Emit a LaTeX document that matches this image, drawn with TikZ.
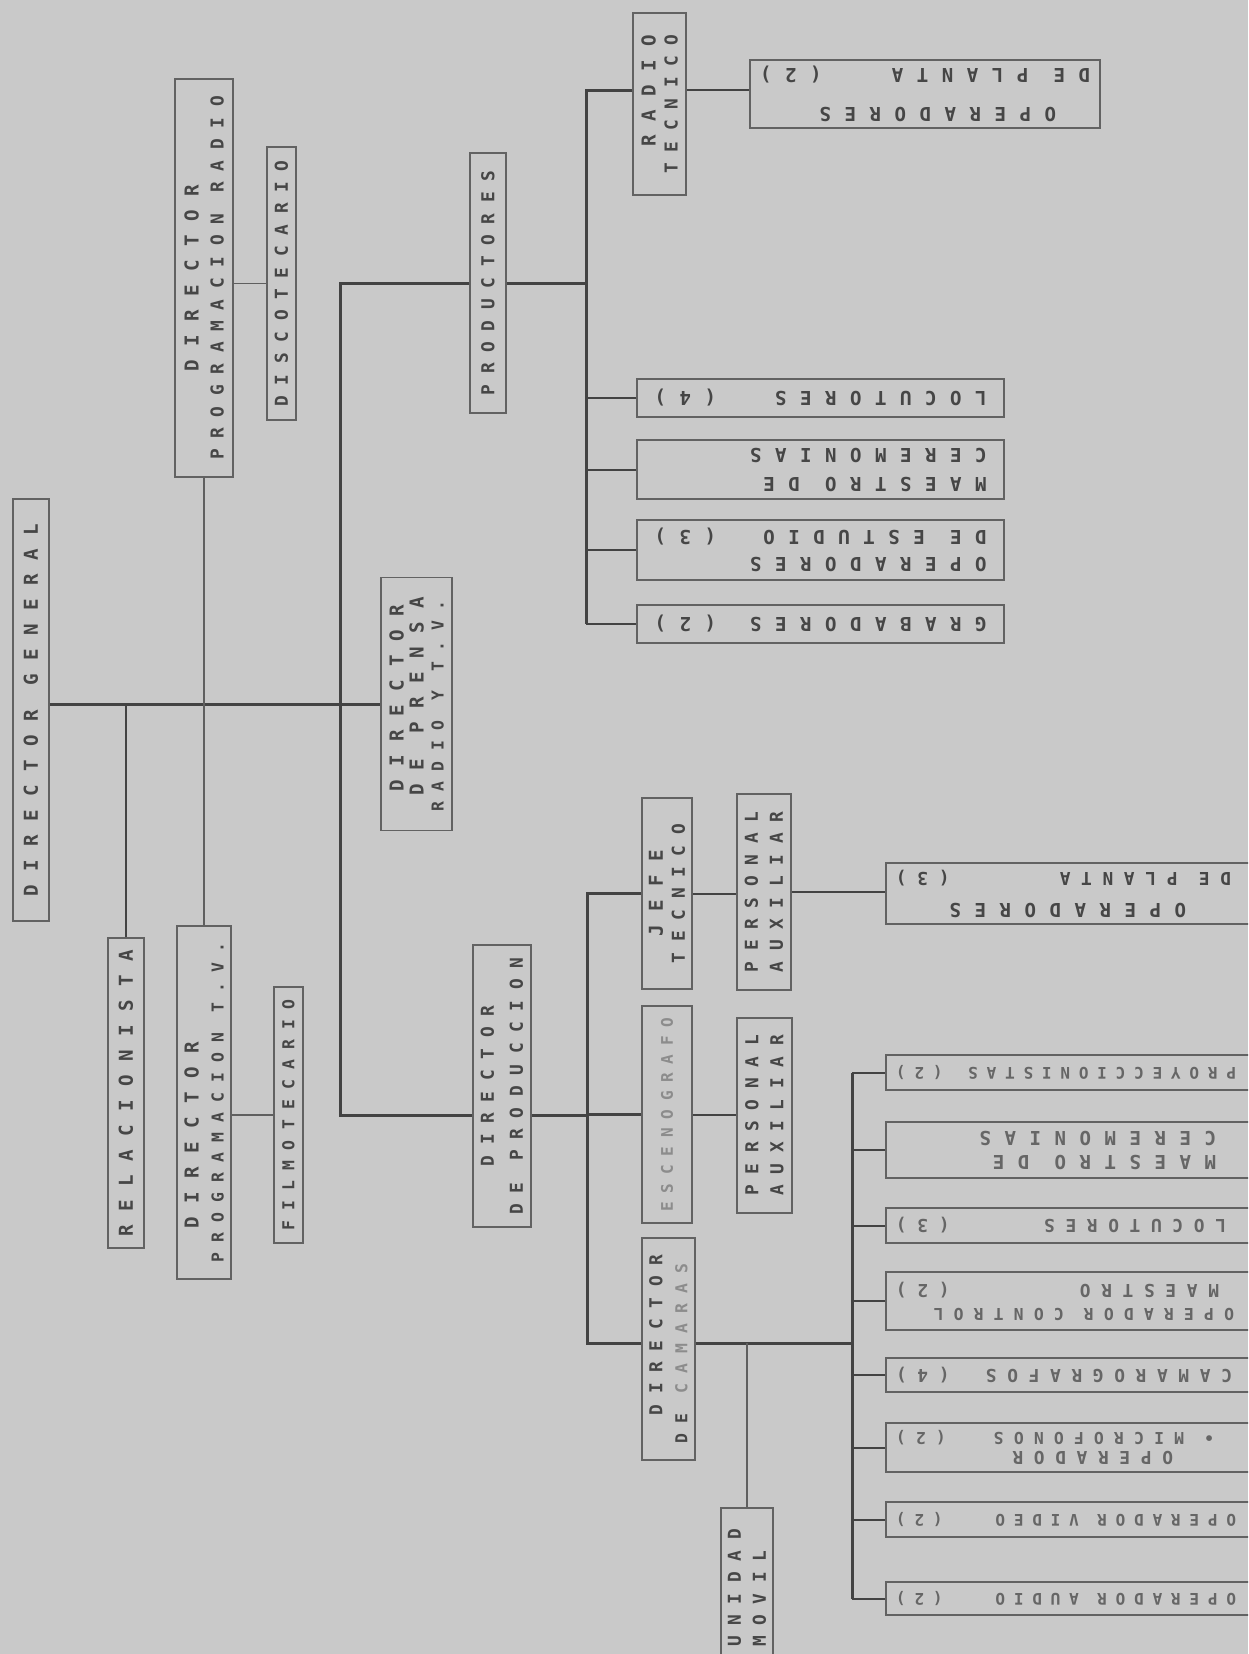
\documentclass[tikz,border=0pt]{standalone}
\usepackage{fontspec}
\newfontfamily\tBigfam[LetterSpace=70]{DejaVu Sans Mono}
\newfontfamily\tMidfam[LetterSpace=60]{DejaVu Sans Mono}
\newfontfamily\tSmallfam[LetterSpace=62]{DejaVu Sans Mono}
\newfontfamily\tTinyfam[LetterSpace=55]{DejaVu Sans Mono}
\newcommand{\tBig}{\tBigfam\bfseries\fontsize{9.6pt}{12.5pt}\selectfont}
\newcommand{\tMid}{\tMidfam\bfseries\fontsize{8.9pt}{12.5pt}\selectfont}
\newcommand{\tSmall}{\tSmallfam\bfseries\fontsize{8.2pt}{12.5pt}\selectfont}
\newcommand{\tTiny}{\tTinyfam\bfseries\fontsize{8pt}{12.5pt}\selectfont}
\definecolor{paper}{HTML}{C9C9C9}
\definecolor{ink}{HTML}{464646}
\definecolor{inkl}{HTML}{666666}
\definecolor{faded}{HTML}{8C8C8C}
\definecolor{rule}{HTML}{434343}
\definecolor{frame}{HTML}{626262}
\tikzset{
  box/.style={draw=frame, line width=0.9pt, inner sep=0pt, text=ink, font=\tBig},
  vbox/.style 2 args={box, rotate=90, minimum width=#1, minimum height=#2},
  rbox/.style 2 args={box, rotate=180, minimum width=#1, minimum height=#2, align=flush left},
  upcol/.style={rbox={183.5pt}{#1}, text width=166pt},
  lowcol/.style={rbox={196pt}{#1}, text width=186pt, text=inkl},
  main/.style={draw=rule, line width=1.5pt},
  link/.style={draw=rule, line width=1pt},
  fine/.style={draw=rule!85, line width=0.6pt},
}

\begin{document}
\begin{tikzpicture}[x=0.5pt, y=-0.5pt]
  \useasboundingbox (0,0) rectangle (1248,1654);
  \fill[paper] (0,0) rectangle (1248,1654);
  \clip (0,0) rectangle (1248,1654);

  % direccion
  \node[vbox={211pt}{18pt}] (dg) at (31,710) {DIRECTOR GENERAL};
  \node[vbox={155pt}{18pt}] (rel) at (126,1093) {RELACIONISTA};
  \node[vbox={199pt}{29pt}, font=\tMid, align=flush center] (dpr) at (204,278) {{\tBig DIRECTOR}\\PROGRAMACION RADIO};
  \node[vbox={136.5pt}{14.5pt}, font=\tMid] (disco) at (281.5,283.5) {DISCOTECARIO};
  \node[vbox={176.5pt}{27pt}, font=\tSmall, align=flush left] (dptv) at (204,1102.5) {\hspace*{17pt}{\tBig DIRECTOR}\\PROGRAMACION T.V.};
  \node[vbox={128pt}{14.5pt}, font=\tSmall] (filmo) at (288.5,1115) {FILMOTECARIO};
  \node[vbox={126.5pt}{35.5pt}, align=flush left] (prensa) at (416.5,704) {\hspace*{10pt}DIRECTOR\\[-2.5pt]\hspace*{8pt}DE PRENSA\\[-2.5pt]{\tSmall RADIO Y T.V.}};

  % prensa radio y t.v.
  \node[vbox={130pt}{18pt}, font=\tMid] (prod) at (488,283) {PRODUCTORES};
  \node[vbox={91pt}{26.5pt}, font=\tMid, align=flush right] (rt) at (659.5,104) {{\tBig RADIO}\\[-1.5pt]TECNICO};
  \node[rbox={175pt}{34pt}, text width=165pt] (opdp2) at (925,94) {\hspace*{17pt}OPERADORES\\[7pt]DE PLANTA\hfill(2)};
  \node[upcol=19pt] (loc4) at (820.5,398) {LOCUTORES\hfill(4)};
  \node[upcol=29.5pt] (mc1) at (820.5,469.5) {MAESTRO DE\\[2pt]CEREMONIAS};
  \node[upcol=30pt] (oe) at (820.5,550) {OPERADORES\\[1pt]DE ESTUDIO\hfill(3)};
  \node[upcol=19pt] (gr) at (820.5,624) {GRABADORES\hfill(2)};

  % produccion
  \node[vbox={141pt}{29pt}, font=\tMid, align=flush center] (dprod) at (502,1086) {DIRECTOR\\[2pt]DE PRODUCCION};
  \node[vbox={95.5pt}{25pt}, font=\tMid, align=flush center] (jt) at (667,893.5) {{\tBig JEFE}\\[-1.5pt]TECNICO};
  \node[vbox={98pt}{27pt}, font=\tMid, align=flush center] (pa1) at (764,892) {PERSONAL\\AUXILIAR};
  \node[vbox={108.5pt}{25pt}, font=\tTiny, text=faded] (esc) at (667,1114.5) {ESCENOGRAFO};
  \node[vbox={97.5pt}{27.5pt}, font=\tMid, align=flush center] (pa2) at (764.5,1115.5) {PERSONAL\\AUXILIAR};
  \node[vbox={111pt}{26.5pt}, font=\tMid, align=flush left] (dcam) at (668.5,1349) {\hspace*{14pt}DIRECTOR\\{\tSmall DE \textcolor{faded}{CAMARAS}}};
  \node[vbox={80pt}{26pt}, font=\tMid, align=flush left] (um) at (747,1588) {UNIDAD\\MOVIL};
  \node[lowcol=30.5pt, text=ink] (opdp3) at (1082,893.5) {\hspace*{41pt}OPERADORES\\[3pt]{\tMid\hspace*{18.5pt}DE PLANTA\hfill(3)}};
  \node[lowcol=17.5pt, font=\tTiny] (proy) at (1082,1072.5) {\hspace*{16pt}PROYECCIONISTAS\hfill(2)};
  \node[lowcol=28pt] (mc2) at (1082,1150) {\hspace*{26pt}MAESTRO DE\\[-0.5pt]\hspace*{26pt}CEREMONIAS};
  \node[lowcol=17.5pt, font=\tMid] (loc3) at (1082,1225.5) {\hspace*{21pt}LOCUTORES\hfill(3)};
  \node[lowcol=29pt, font=\tMid] (ocm) at (1082,1301) {{\tSmall\hspace*{17pt}OPERADOR CONTROL}\\[-0.5pt]\hspace*{24.5pt}MAESTRO\hfill(2)};
  \node[lowcol=17pt, font=\tMid] (cam) at (1082,1375) {\hspace*{18pt}CAMAROGRAFOS\hfill(4)};
  \node[lowcol=24.5pt, font=\tSmall] (mic) at (1082,1447.5) {{\tMid\hspace*{47.5pt}OPERADOR}\\[-3pt]\hspace*{27pt}\textbullet\ MICROFONOS\hfill(2)};
  \node[lowcol=17.5pt, font=\tTiny] (vid) at (1082,1519.5) {\hspace*{16pt}OPERADOR VIDEO\hfill(2)};
  \node[lowcol=16.5pt, font=\tTiny] (aud) at (1082,1598.5) {\hspace*{16pt}OPERADOR AUDIO\hfill(2)};

  \coordinate (jA) at (340,283);
  \coordinate (jB) at (340,1115);
  \coordinate (pA) at (586,90);
  \coordinate (qA) at (587,893);
  \coordinate (qB) at (587,1343);
  \coordinate (rX) at (852,0);

  \draw[main] (dg.south |- prensa.north) -- (prensa.north);
  \draw[link] (rel.east) -- (rel.east |- prensa.north);
  \draw[fine] (dpr.west) -- (dptv.east);
  \draw[fine] (dpr.south |- disco.north) -- (disco.north);
  \draw[fine] (dptv.south |- filmo.north) -- (filmo.north);
  \draw[main] (prod.north |- jA) -- (jA) -- (jB) -- (dprod.north |- jB);

  \draw[main] (prod.south |- jA) -- (jA -| pA);
  \draw[main] (rt.north |- pA) -- (pA) -- (gr.east -| pA);
  \draw[link] (rt.south |- pA) -- (opdp2.east |- pA);
  \foreach \n in {loc4,mc1,oe,gr}
    \draw[link] (\n.east) -- (\n.east -| pA);

  \draw[main] (dprod.south |- jB) -- (jB -| qA);
  \draw[main] (jt.north |- qA) -- (qA) -- (qB) -- (dcam.north |- qB);
  \draw[main] (esc.north) -- (esc.north -| qA);
  \draw[link] (jt.south) -- (pa1.north |- jt.south);
  \draw[link] (pa1.south) -- (opdp3.east |- pa1.south);
  \draw[link] (esc.south) -- (pa2.north |- esc.south);
  \draw[main] (dcam.south |- qB) -- (qB -| rX);
  \draw[fine] (qB -| um.east) -- (um.east);
  \draw[main] (proy.east -| rX) -- (aud.east -| rX);
  \foreach \n in {proy,mc2,loc3,ocm,cam,mic,vid,aud}
    \draw[link] (\n.east) -- (\n.east -| rX);
\end{tikzpicture}
\end{document}
